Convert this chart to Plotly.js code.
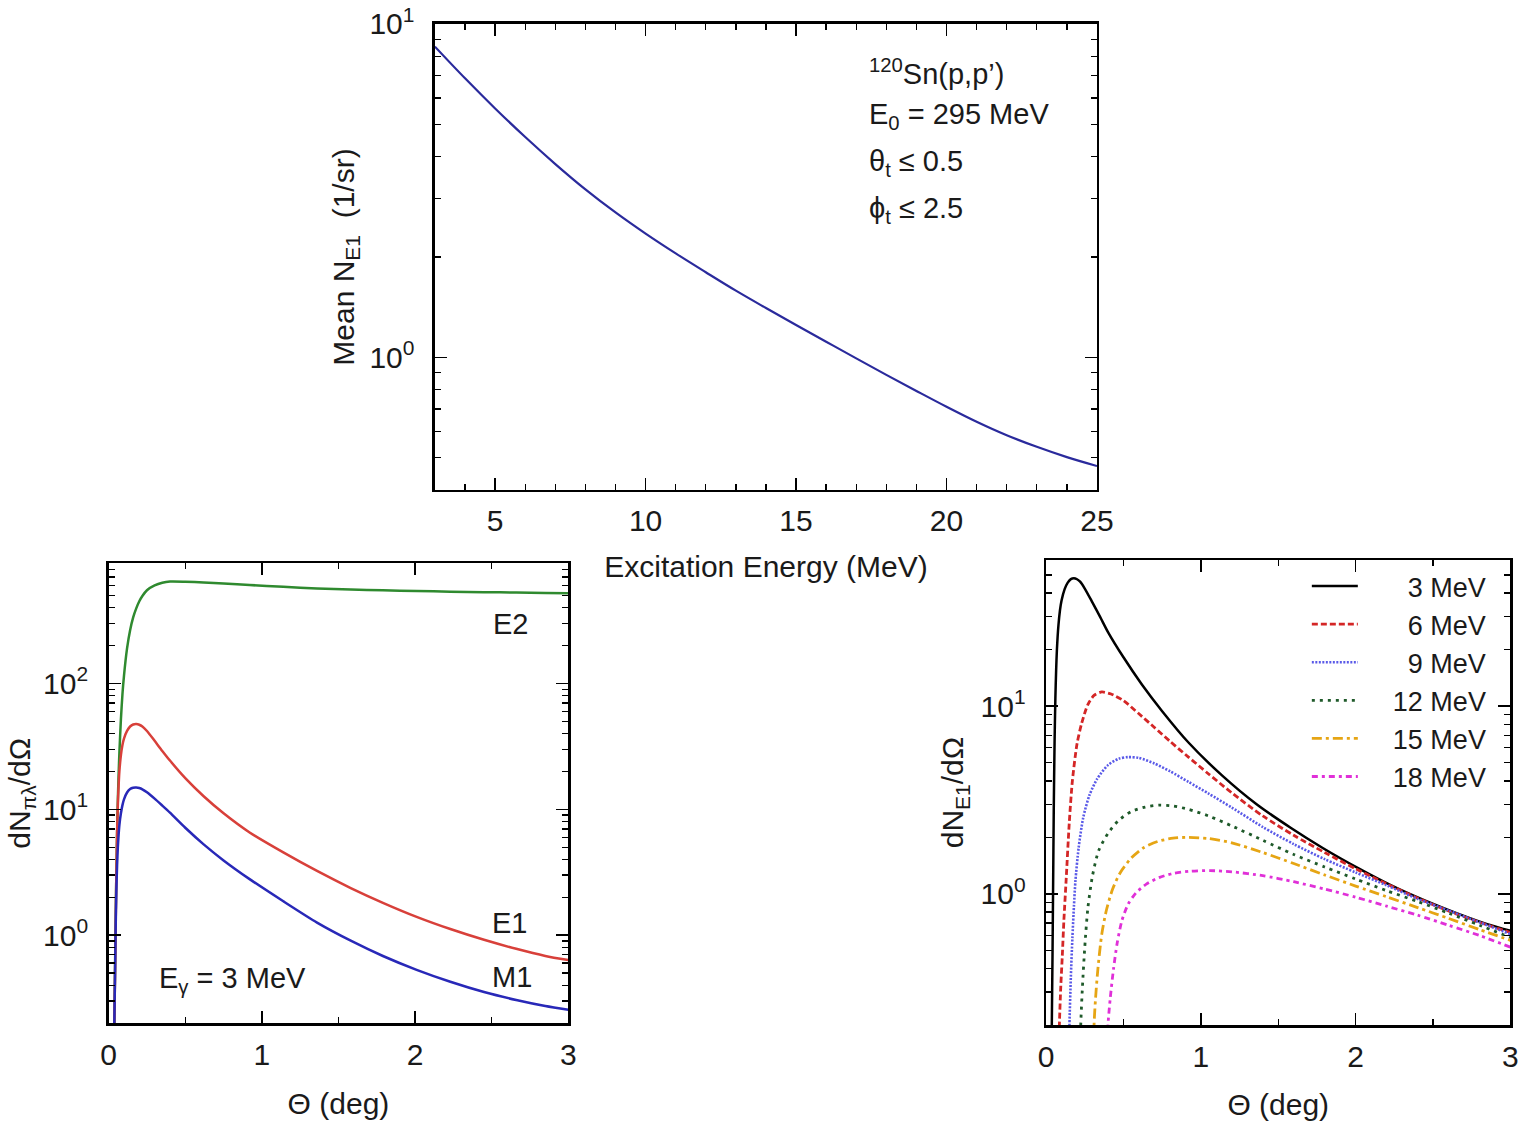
<!DOCTYPE html>
<html>
<head>
<meta charset="utf-8">
<script src="https://cdn.plot.ly/plotly-3.0.1.min.js"></script>
<style>
  html, body { margin: 0; padding: 0; background: #fff; }
  #chart { width: 1524px; height: 1121px; }
</style>
</head>
<body>
<div id="chart"></div>
<script>
// ---- Mean number of E1 photons vs excitation energy (top panel) ----
const excEnergy = [3, 4, 5, 6, 7, 8, 9, 10, 11, 12, 13, 14, 15, 16, 17, 18, 19, 20, 21, 22, 23, 24, 25];
const meanNE1   = [8.55, 6.87, 5.58, 4.58, 3.80, 3.19, 2.72, 2.35, 2.05, 1.80, 1.585, 1.406, 1.250, 1.114, 0.993, 0.886, 0.793, 0.711, 0.641, 0.584, 0.539, 0.502, 0.472];

// ---- Multipole photon numbers at E_gamma = 3 MeV (bottom-left panel) ----
const thetaMult = [0.03, 0.037, 0.045, 0.05, 0.055, 0.06, 0.065, 0.07, 0.08, 0.09, 0.1, 0.12, 0.14, 0.16, 0.18, 0.2, 0.22, 0.25, 0.3, 0.35,
                   0.4, 0.5, 0.62, 0.75, 0.92, 1.14, 1.36, 1.58, 1.79, 2.01, 2.23, 2.45, 2.66, 2.85, 3.0];
const dNE2 = [0.1, 0.2, 1.2, 3, 6.5, 12, 19, 28, 52, 82, 115, 190, 265, 335, 395, 450, 495, 550, 600, 630,
              644, 642, 634, 622, 605, 585, 568, 557, 549, 542, 536, 531, 527, 523, 520];
const dNE1 = [0.1, 0.2, 1.0, 3, 6.5, 11, 15.5, 20, 27, 32.5, 36.5, 42, 45.5, 47.2, 47.6, 47.0, 45.5, 41.9, 35.0, 29.1,
              24.4, 17.7, 12.7, 9.3, 6.55, 4.55, 3.24, 2.37, 1.81, 1.40, 1.12, 0.92, 0.78, 0.685, 0.635];
const dNM1 = [0.1, 0.2, 1.0, 2.2, 3.6, 5.0, 6.3, 7.5, 9.3, 10.8, 12.0, 13.6, 14.5, 14.85, 14.9, 14.76, 14.42, 13.65, 12.16, 10.72,
              9.42, 7.14, 5.27, 3.93, 2.79, 1.86, 1.26, 0.905, 0.684, 0.531, 0.427, 0.354, 0.306, 0.274, 0.256];
const multLabels = ['E2', 'E1', 'M1'];

// ---- E1 photon numbers for several excitation energies (bottom-right panel) ----
const gammaEnergies = [3, 6, 9, 12, 15, 18];
const theta3  = [0.03, 0.037, 0.045, 0.05, 0.055, 0.06, 0.065, 0.07, 0.08, 0.09, 0.1, 0.12, 0.14, 0.16, 0.18, 0.2, 0.22, 0.25, 0.3, 0.35,
                 0.4, 0.5, 0.62, 0.75, 0.92, 1.14, 1.36, 1.58, 1.79, 2.01, 2.23, 2.45, 2.66, 2.85, 3.0];
const dN3     = [0.1, 0.2, 1.0, 3, 6.5, 11, 15.5, 20, 27, 32.5, 36.5, 42, 45.5, 47.5, 48, 47.4, 46.0, 42.3, 35.6, 29.8,
                 24.8, 18.2, 13.0, 9.4, 6.4, 4.25, 3.0, 2.25, 1.75, 1.38, 1.11, 0.92, 0.785, 0.69, 0.636];
const theta6  = [0.08, 0.086, 0.095, 0.105, 0.115, 0.13, 0.15, 0.17, 0.2, 0.23, 0.27, 0.31, 0.36, 0.42, 0.5,
                 0.6, 0.7, 0.8, 0.92, 1.05, 1.2, 1.4, 1.6, 1.8, 2.0, 2.2, 2.4, 2.6, 2.8, 3.0];
const dN6     = [0.1, 0.2, 0.32, 0.47, 0.72, 1.2, 2.4, 4.0, 6.3, 8.1, 10.2, 11.4, 11.9, 11.6, 10.7,
                 9.1, 7.7, 6.5, 5.35, 4.35, 3.45, 2.6, 2.05, 1.66, 1.36, 1.13, 0.95, 0.81, 0.705, 0.622];
const theta9  = [0.145, 0.151, 0.16, 0.17, 0.18, 0.19, 0.21, 0.24, 0.28, 0.33, 0.4, 0.47, 0.53, 0.6,
                 0.7, 0.8, 0.92, 1.05, 1.2, 1.4, 1.6, 1.8, 2.0, 2.2, 2.4, 2.6, 2.8, 3.0];
const dN9     = [0.1, 0.2, 0.36, 0.58, 0.86, 1.18, 1.75, 2.55, 3.35, 4.1, 4.85, 5.25, 5.35, 5.3,
                 4.95, 4.5, 3.95, 3.42, 2.88, 2.27, 1.84, 1.53, 1.30, 1.11, 0.94, 0.815, 0.705, 0.61];
const theta12 = [0.218, 0.224, 0.235, 0.25, 0.27, 0.3, 0.34, 0.4, 0.47, 0.55, 0.64, 0.73, 0.82,
                 0.92, 1.05, 1.2, 1.4, 1.6, 1.8, 2.0, 2.2, 2.4, 2.6, 2.8, 3.0];
const dN12    = [0.1, 0.2, 0.32, 0.52, 0.84, 1.25, 1.7, 2.1, 2.47, 2.74, 2.9, 2.97, 2.94,
                 2.82, 2.6, 2.3, 1.93, 1.62, 1.39, 1.2, 1.04, 0.91, 0.79, 0.68, 0.586];
const theta15 = [0.304, 0.31, 0.32, 0.335, 0.36, 0.39, 0.43, 0.48, 0.55, 0.63, 0.72, 0.82,
                 0.92, 1.05, 1.2, 1.4, 1.6, 1.8, 2.0, 2.2, 2.4, 2.6, 2.8, 3.0];
const dN15    = [0.1, 0.2, 0.28, 0.4, 0.61, 0.82, 1.06, 1.3, 1.55, 1.76, 1.9, 1.98,
                 2.0, 1.97, 1.87, 1.66, 1.45, 1.26, 1.1, 0.965, 0.845, 0.74, 0.645, 0.565];
const theta18 = [0.39, 0.4, 0.415, 0.436, 0.46, 0.49, 0.53, 0.58, 0.65, 0.73, 0.82, 0.93,
                 1.06, 1.2, 1.4, 1.6, 1.8, 2.0, 2.2, 2.4, 2.6, 2.8, 3.0];
const dN18    = [0.1, 0.2, 0.28, 0.40, 0.55, 0.72, 0.88, 1.01, 1.13, 1.22, 1.285, 1.32,
                 1.33, 1.31, 1.25, 1.16, 1.06, 0.96, 0.86, 0.77, 0.68, 0.6, 0.52];

// tick labels for the logarithmic axes
const logTickVals = [1, 10, 100];
const logTickText = ['10<sup>0</sup>', '10<sup>1</sup>', '10<sup>2</sup>'];

const FONT = 'Liberation Sans, Arial, Helvetica, sans-serif';
const TXT = '#1a1a1a';
const TICK_SIZE = 30, TITLE_SIZE = 30, NOTE_SIZE = 29, LEGEND_SIZE = 27;

// minor tick positions of a log axis: 2..9 times each decade inside [lo, hi]
function logMinor(lo, hi) {
  const out = [];
  for (let e = -2; e <= 3; e++) {
    for (let m = 2; m <= 9; m++) {
      const v = m * Math.pow(10, e);
      if (v >= lo - 1e-9 && v <= hi + 1e-9) out.push(v);
    }
  }
  return out;
}

function frameAxis(extra) {
  return Object.assign({
    showline: true, linecolor: '#000', linewidth: 2.5, mirror: 'ticks',
    ticks: 'inside', ticklen: 12, tickwidth: 1.6, tickcolor: '#000',
    showgrid: false, zeroline: false, automargin: false,
    tickfont: { family: FONT, size: TICK_SIZE, color: TXT }
  }, extra);
}

function linAxis(range, tick0, dtick, minorD, titleText, standoff, extra) {
  return frameAxis(Object.assign({
    type: 'linear', range: range, tickmode: 'linear', tick0: tick0, dtick: dtick,
    ticklabelstandoff: 3,
    minor: { ticks: 'inside', ticklen: 6, tickwidth: 1.4, tickcolor: '#000', dtick: minorD, tick0: tick0, showgrid: false },
    title: { text: titleText, standoff: standoff, font: { family: FONT, size: TITLE_SIZE, color: TXT } }
  }, extra));
}

function logAxis(lo, hi, titleText, standoff, extra) {
  return frameAxis(Object.assign({
    type: 'log', range: [Math.log10(lo), Math.log10(hi)],
    tickmode: 'array',
    tickvals: logTickVals.filter(v => v >= lo && v <= hi),
    ticktext: logTickText.filter((t, i) => logTickVals[i] >= lo && logTickVals[i] <= hi),
    ticklabelstandoff: 12,
    minor: { tickmode: 'array', tickvals: logMinor(lo, hi), ticks: 'inside', ticklen: 6, tickwidth: 1.4, tickcolor: '#000', showgrid: false },
    title: { text: titleText, standoff: standoff, font: { family: FONT, size: TITLE_SIZE, color: TXT } }
  }, extra));
}

// legend text pushed right and right-aligned by padding with no-break spaces
function energyName(e) {
  const pad = e < 10 ? 6 : 4;
  return '\u00a0'.repeat(pad) + e + ' MeV';
}

const smoothTop = { shape: 'spline', smoothing: 1.0 };
const smooth = { shape: 'spline', smoothing: 0.7 };

const traces = [
  { x: excEnergy, y: meanNE1, xaxis: 'x', yaxis: 'y', mode: 'lines', showlegend: false,
    line: Object.assign({ color: '#2a2a9c', width: 2.2 }, smoothTop) },

  { x: thetaMult, y: dNE2, xaxis: 'x2', yaxis: 'y2', mode: 'lines', name: multLabels[0], showlegend: false,
    line: Object.assign({ color: '#2f8a2f', width: 2.5 }, smooth) },
  { x: thetaMult, y: dNE1, xaxis: 'x2', yaxis: 'y2', mode: 'lines', name: multLabels[1], showlegend: false,
    line: Object.assign({ color: '#d8403a', width: 2.5 }, smooth) },
  { x: thetaMult, y: dNM1, xaxis: 'x2', yaxis: 'y2', mode: 'lines', name: multLabels[2], showlegend: false,
    line: Object.assign({ color: '#2828b8', width: 2.5 }, smooth) },

  { x: theta3,  y: dN3,  xaxis: 'x3', yaxis: 'y3', mode: 'lines', name: energyName(gammaEnergies[0]),
    line: Object.assign({ color: '#000000', width: 2.5 }, smooth) },
  { x: theta6,  y: dN6,  xaxis: 'x3', yaxis: 'y3', mode: 'lines', name: energyName(gammaEnergies[1]),
    line: Object.assign({ color: '#d42626', width: 2.8, dash: '6px,3px' }, smooth) },
  { x: theta9,  y: dN9,  xaxis: 'x3', yaxis: 'y3', mode: 'lines', name: energyName(gammaEnergies[2]),
    line: Object.assign({ color: '#5a5ae8', width: 2.6, dash: '2px,1.5px' }, smooth) },
  { x: theta12, y: dN12, xaxis: 'x3', yaxis: 'y3', mode: 'lines', name: energyName(gammaEnergies[3]),
    line: Object.assign({ color: '#1f5a2a', width: 2.8, dash: '3px,5px' }, smooth) },
  { x: theta15, y: dN15, xaxis: 'x3', yaxis: 'y3', mode: 'lines', name: energyName(gammaEnergies[4]),
    line: Object.assign({ color: '#e6a514', width: 2.8, dash: '10px,4px,3px,4px' }, smooth) },
  { x: theta18, y: dN18, xaxis: 'x3', yaxis: 'y3', mode: 'lines', name: energyName(gammaEnergies[5]),
    line: Object.assign({ color: '#e030d8', width: 2.8, dash: '6px,4px,3px,4px' }, smooth) }
];

function label(text, xref, yref, x, y, xanchor) {
  return { text: text, xref: xref, yref: yref, x: x, y: y, xanchor: xanchor, yanchor: 'middle',
           showarrow: false, font: { family: FONT, size: NOTE_SIZE, color: TXT } };
}

const layout = {
  width: 1524, height: 1121,
  margin: { l: 0, r: 0, t: 0, b: 0 },
  paper_bgcolor: '#ffffff', plot_bgcolor: '#ffffff',
  font: { family: FONT, size: TICK_SIZE, color: TXT },

  xaxis:  linAxis([3, 25], 5, 5, 1, 'Excitation Energy (MeV)', 20, { domain: [0.2854, 0.7198], anchor: 'y' }),
  yaxis:  logAxis(0.4, 10, 'Mean N<sub>E1</sub>  (1/sr)', 6, { domain: [0.5629, 0.9786], anchor: 'x' }),

  xaxis2: linAxis([0, 3], 0, 1, 0.5, 'Θ (deg)', 24, { domain: [0.0713, 0.3729], anchor: 'y2' }),
  yaxis2: logAxis(0.2, 900, 'dN<sub>πλ</sub>/dΩ', 4, { domain: [0.0872, 0.4975], anchor: 'x2' }),

  xaxis3: linAxis([0, 3], 0, 1, 0.5, 'Θ (deg)', 24, { domain: [0.6864, 0.9911], anchor: 'y3' }),
  yaxis3: logAxis(0.2, 60, 'dN<sub>E1</sub>/dΩ', 8, { domain: [0.0856, 0.5004], anchor: 'x3' }),

  showlegend: true,
  legend: {
    x: 0.8575, y: 0.4987, xanchor: 'left', yanchor: 'top',
    bgcolor: 'rgba(255,255,255,0)', borderwidth: 0,
    font: { family: FONT, size: LEGEND_SIZE, color: TXT },
    itemwidth: 46, tracegroupgap: 0
  },

  annotations: [
    label('<sup>120</sup>Sn(p,p’)', 'x domain', 'y domain', 0.6526, 0.897, 'left'),
    label('E<sub>0</sub> = 295 MeV', 'x domain', 'y domain', 0.6526, 0.803, 'left'),
    label('θ<sub>t</sub> ≤ 0.5', 'x domain', 'y domain', 0.6526, 0.702, 'left'),
    label('ϕ<sub>t</sub> ≤ 2.5', 'x domain', 'y domain', 0.6526, 0.601, 'left'),

    label(multLabels[0], 'x2 domain', 'y2 domain', 0.875, 0.868, 'center'),
    label(multLabels[1], 'x2 domain', 'y2 domain', 0.873, 0.218, 'center'),
    label(multLabels[2], 'x2 domain', 'y2 domain', 0.878, 0.101, 'center'),
    label('E<sub>γ</sub> = 3 MeV', 'x2 domain', 'y2 domain', 0.105, 0.095, 'left')
  ]
};

Plotly.newPlot('chart', traces, layout, { displayModeBar: false, staticPlot: true });
</script>
</body>
</html>
